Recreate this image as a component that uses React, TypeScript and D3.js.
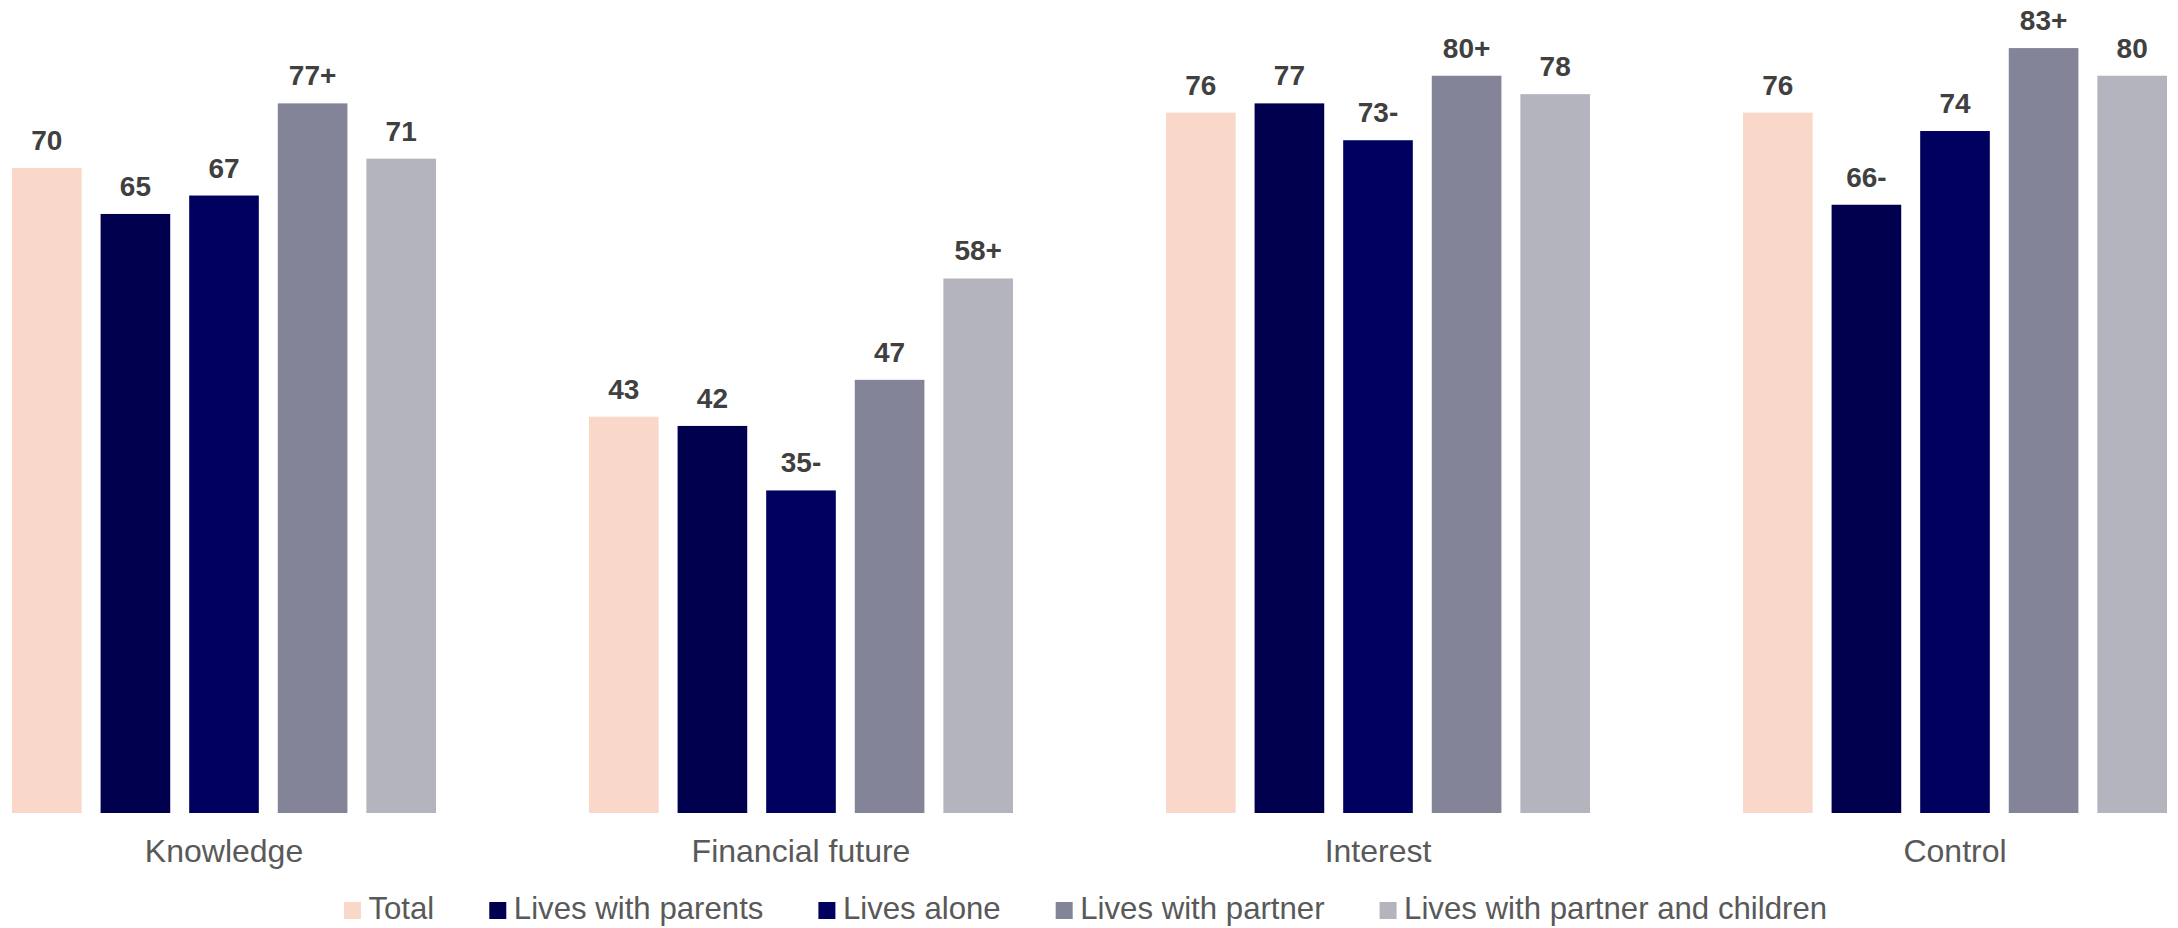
import React, { useMemo } from "react";
import * as d3 from "d3";

const WIDTH = 2178;
const HEIGHT = 928;
const FONT = "'Liberation Sans', Arial, Helvetica, sans-serif";

const categories = ["Knowledge", "Financial future", "Interest", "Control"];
const seriesNames = [
  "Total",
  "Lives with parents",
  "Lives alone",
  "Lives with partner",
  "Lives with partner and children",
];
const seriesColors = ["#F9D8CA", "#00004F", "#00005E", "#838497", "#B4B4BF"];

// One array per series, ordered as the categories above
const total = [70, 43, 76, 76];
const livesWithParents = [65, 42, 77, 66];
const livesAlone = [67, 35, 73, 74];
const livesWithPartner = [77, 47, 80, 83];
const livesWithPartnerAndChildren = [71, 58, 78, 80];

// Significance markers shown after each value
const totalSig = ["", "", "", ""];
const parentsSig = ["", "", "", "-"];
const aloneSig = ["", "-", "-", ""];
const partnerSig = ["+", "", "+", "+"];
const childrenSig = ["", "+", "", ""];

const seriesValues = [total, livesWithParents, livesAlone, livesWithPartner, livesWithPartnerAndChildren];
const seriesSig = [totalSig, parentsSig, aloneSig, partnerSig, childrenSig];

function measure(text: string, font: string): number {
  const canvas = document.createElement("canvas");
  const ctx = canvas.getContext("2d");
  if (!ctx) return text.length * 16;
  ctx.font = font;
  return ctx.measureText(text).width;
}

export default function App() {
  const baseline = 813;
  const y = d3.scaleLinear().domain([0, 88]).range([baseline, 2]);
  const x0 = d3.scaleBand<string>().domain(categories).range([-64.5, 2243.5]).padding(0);
  const x1 = d3
    .scaleBand<string>()
    .domain(seriesNames)
    .range([76.5, 500.5])
    .paddingInner(0.214)
    .paddingOuter(0);

  const legendFontSize = 31.2;
  const swatch = 17;
  const swatchGap = 7.5;
  const itemGap = 55;
  const legend = useMemo(() => {
    const widths = seriesNames.map((s) => measure(s, `${legendFontSize}px ${FONT}`));
    const itemWidths = widths.map((w) => swatch + swatchGap + w);
    const totalW = d3.sum(itemWidths) + itemGap * (seriesNames.length - 1);
    let cx = 1085.5 - totalW / 2;
    return itemWidths.map((w) => {
      const pos = cx;
      cx += w + itemGap;
      return pos;
    });
  }, []);

  return (
    <svg
      width={WIDTH}
      height={HEIGHT}
      style={{ position: "absolute", left: 0, top: 0, background: "#ffffff" }}
      fontFamily={FONT}
    >
      <rect x={0} y={0} width={WIDTH} height={HEIGHT} fill="#ffffff" />
      {categories.map((cat, ci) => {
        const gx = x0(cat) ?? 0;
        return (
          <g key={cat} transform={`translate(${gx},0)`}>
            {seriesNames.map((s, si) => {
              const v = seriesValues[si][ci];
              const bx = x1(s) ?? 0;
              const bw = x1.bandwidth();
              return (
                <g key={s}>
                  <rect x={bx} y={y(v)} width={bw} height={baseline - y(v)} fill={seriesColors[si]} />
                  <text
                    x={bx + bw / 2}
                    y={y(v) - 18}
                    textAnchor="middle"
                    fontSize={28}
                    fontWeight="bold"
                    fill="#404040"
                  >
                    {`${v}${seriesSig[si][ci]}`}
                  </text>
                </g>
              );
            })}
            <text
              x={x0.bandwidth() / 2}
              y={862}
              textAnchor="middle"
              fontSize={32}
              fill="#595959"
            >
              {cat}
            </text>
          </g>
        );
      })}
      <g>
        {seriesNames.map((s, si) => (
          <g key={s} transform={`translate(${legend[si]},0)`}>
            <rect x={0} y={902} width={swatch} height={swatch} fill={seriesColors[si]} />
            <text x={swatch + swatchGap} y={919} fontSize={legendFontSize} fill="#595959">
              {s}
            </text>
          </g>
        ))}
      </g>
    </svg>
  );
}
